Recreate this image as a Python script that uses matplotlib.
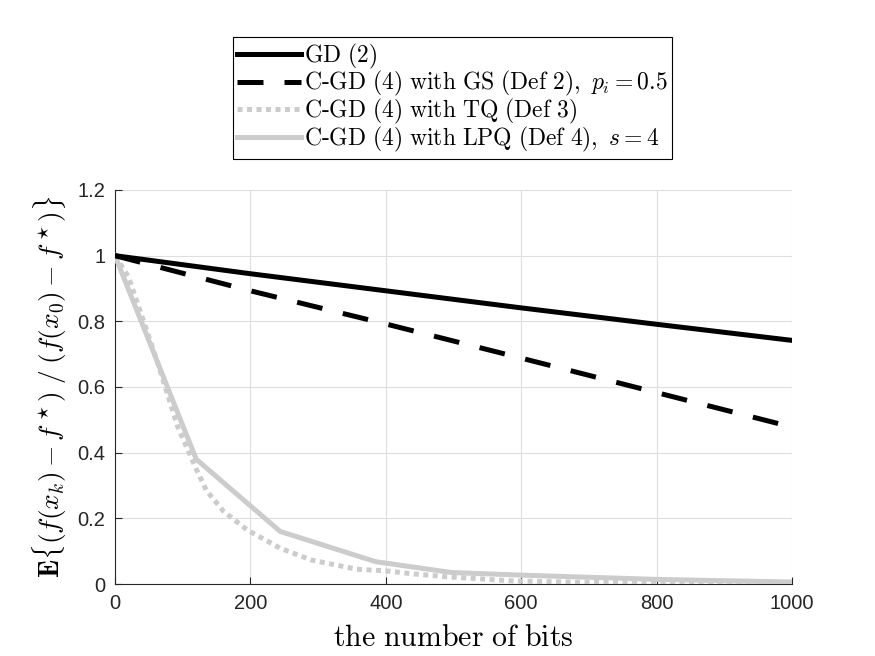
import matplotlib
matplotlib.use("Agg")
import matplotlib.pyplot as plt

plt.rcParams['mathtext.fontset'] = 'cm'
plt.rcParams['font.family'] = ['Liberation Sans', 'DejaVu Sans']

# data
gd_x = [0, 200, 400, 600, 800, 1000]
gd_y = [1.0, 0.945, 0.893, 0.841, 0.791, 0.742]

gs_x = [0, 200, 400, 600, 800, 1000]
gs_y = [1.0, 0.893, 0.792, 0.688, 0.583, 0.478]

tq_x = [0, 20, 62, 93, 120, 135, 160, 195, 244, 290, 357, 400, 440, 490, 590, 700, 850, 1000]
tq_y = [1.0, 0.935, 0.68, 0.477, 0.35, 0.285, 0.222, 0.165, 0.109, 0.073, 0.045, 0.040,
        0.031, 0.022, 0.009, 0.005, 0.003, 0.002]

lpq_x = [0, 120, 244, 385, 497, 600, 800, 1000]
lpq_y = [1.0, 0.38, 0.16, 0.068, 0.035, 0.027, 0.014, 0.006]

labels = [r'$\mathrm{GD\ (2)}$',
          r'$\mathrm{C}\text{-}\mathrm{GD\ (4)\ with\ GS\ (Def\ 2),}\ p_i=0.5$',
          r'$\mathrm{C}\text{-}\mathrm{GD\ (4)\ with\ TQ\ (Def\ 3)}$',
          r'$\mathrm{C}\text{-}\mathrm{GD\ (4)\ with\ LPQ\ (Def\ 4),}\ s=4$']

xticks = [0, 200, 400, 600, 800, 1000]
yticks = [0, 0.2, 0.4, 0.6, 0.8, 1.0, 1.2]
xtick_labels = ['0', '200', '400', '600', '800', '1000']
ytick_labels = ['0', '0.2', '0.4', '0.6', '0.8', '1', '1.2']

fig = plt.figure(figsize=(8.75, 6.56), dpi=100)
ax = fig.add_axes([115/875, 1-584/656, (792-115)/875, (584-190)/656])

lw = 3.6
gray = (0.8, 0.8, 0.8)
h1, = ax.plot(gd_x, gd_y, color='black', lw=lw, zorder=4)
h2, = ax.plot(gs_x, gs_y, color='black', lw=lw, ls=(0, (5.2, 4.2)), zorder=4)
h3, = ax.plot(tq_x, tq_y, color=gray, lw=lw, ls=(0, (1.0, 0.9)), zorder=3)
h4, = ax.plot(lpq_x, lpq_y, color=gray, lw=lw, zorder=3)

ax.set_xlim(0, 1000)
ax.set_ylim(0, 1.2)
ax.set_xticks(xticks)
ax.set_xticklabels(xtick_labels)
ax.set_yticks(yticks)
ax.set_yticklabels(ytick_labels)
axc = '#262626'
ax.tick_params(direction='in', length=5, width=0.8, colors=axc, labelsize=14.5, pad=7)
ax.spines['top'].set_visible(False)
ax.spines['right'].set_visible(False)
for s in ['left', 'bottom']:
    ax.spines[s].set_color(axc)
    ax.spines[s].set_linewidth(0.8)
ax.grid(True, color='#dedede', lw=0.8)
ax.set_axisbelow(True)

ax.set_xlabel(r'$\mathrm{the\ number\ of\ bits}$', fontsize=21.5, labelpad=8)
ax.set_ylabel(r'$\mathbf{E}\{(f(x_k)-f^\star)\;/\;(f(x_0)-f^\star)\}$', fontsize=19.8, labelpad=6)

leg = fig.legend([h1, h2, h3, h4], labels, loc='center', bbox_to_anchor=(0.517, 0.851),
                 fontsize=17, handlelength=2.7, handletextpad=0.12, labelspacing=-0.06,
                 borderpad=0.2, borderaxespad=0, fancybox=False, frameon=True,
                 edgecolor='black', framealpha=1)
leg.get_frame().set_linewidth(0.8)

fig.savefig('out.png', dpi=100)
